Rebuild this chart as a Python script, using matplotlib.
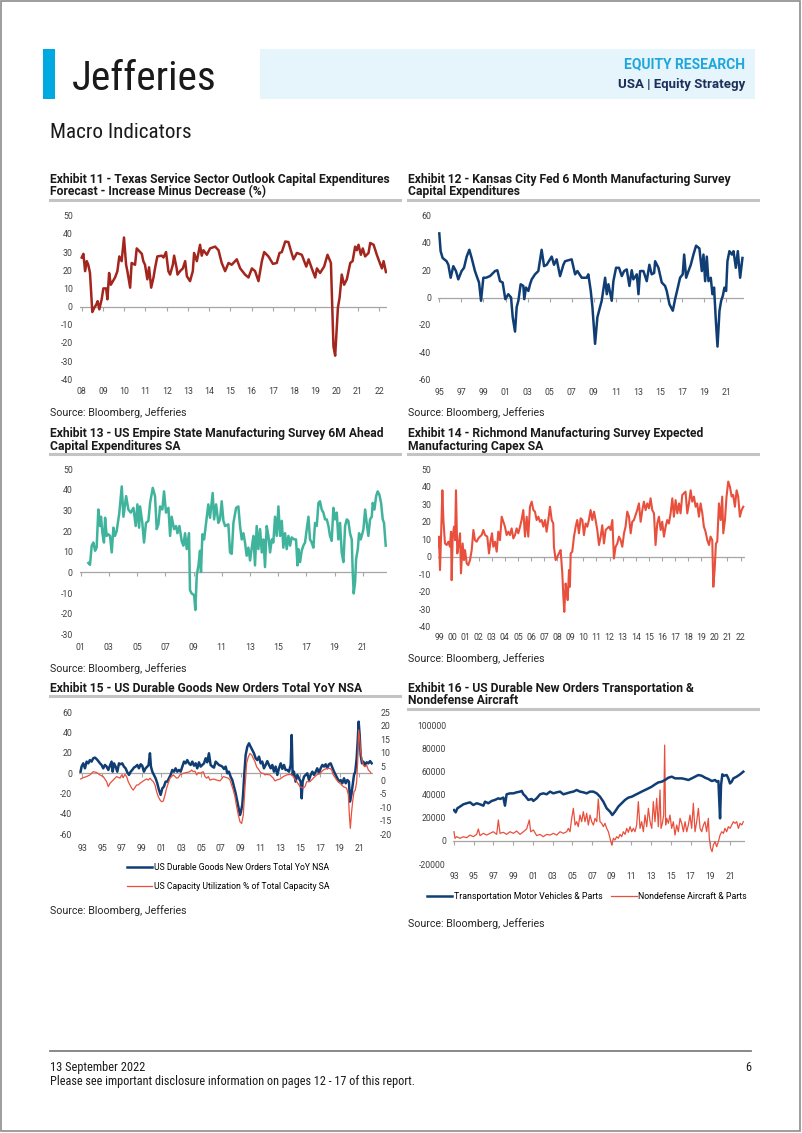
import matplotlib
matplotlib.use('Agg')
import matplotlib.pyplot as plt
from matplotlib import font_manager
from matplotlib.font_manager import FontProperties
from matplotlib.lines import Line2D
from matplotlib.patches import Rectangle

plt.rcParams['font.family'] = ['Roboto', 'DejaVu Sans']
plt.rcParams['axes.unicode_minus'] = False

# look for a narrow / condensed face for the header and footer, else fall back to Roboto
narrow_file = None
for key in ['robotocondensed-regular', 'liberationsansnarrow-regular', 'notosans-condensed.',
            'opensans-condensed', 'opensanscondensed-light']:
    for f in font_manager.fontManager.ttflist:
        if key in f.fname.lower().replace(' ', ''):
            narrow_file = f.fname
            break
    if narrow_file:
        break
NARROW = dict(fontproperties=FontProperties(fname=narrow_file)) if narrow_file else dict(family='Roboto')

# ---------------- data (decimal year, value) ----------------
# Exhibit 11 - Texas service sector capex
texas = [(2008.00, 27), (2008.08, 29), (2008.16, 19.5), (2008.24, 25), (2008.31, 23), (2008.39, 18.5),
         (2008.50, -3), (2008.60, -0.5), (2008.68, 1), (2008.75, 3), (2008.83, -1.5), (2008.94, 4),
         (2009.02, 10), (2009.15, 10), (2009.21, 4), (2009.29, 18.5), (2009.37, 12), (2009.57, 16),
         (2009.68, 19.5), (2009.77, 27.6), (2009.88, 25), (2009.99, 38), (2010.09, 23), (2010.15, 19.5),
         (2010.28, 10.4), (2010.35, 24), (2010.51, 23), (2010.59, 32), (2010.75, 30), (2010.83, 29),
         (2010.90, 25), (2010.98, 23), (2011.09, 15), (2011.17, 21.6), (2011.27, 10.4), (2011.38, 16),
         (2011.45, 21), (2011.56, 27.6), (2011.77, 28), (2011.85, 27), (2011.97, 30), (2012.08, 19.5),
         (2012.16, 17.6), (2012.29, 23), (2012.35, 28), (2012.47, 21), (2012.51, 17.6), (2012.63, 19.5),
         (2012.76, 21), (2012.87, 25), (2012.95, 16.7), (2013.10, 14), (2013.23, 19.5), (2013.29, 29.5),
         (2013.42, 25), (2013.57, 34), (2013.65, 28), (2013.73, 31), (2013.89, 28.5), (2014.04, 32),
         (2014.28, 33), (2014.44, 31), (2014.59, 24), (2014.75, 19.5), (2014.91, 24), (2015.06, 23),
         (2015.30, 26), (2015.46, 21), (2015.69, 17.6), (2015.85, 16), (2016.01, 21), (2016.16, 19.5),
         (2016.32, 14), (2016.48, 25), (2016.59, 30), (2016.79, 27.6), (2017.00, 23.5), (2017.18, 24),
         (2017.31, 29.5), (2017.42, 30), (2017.58, 35.8), (2017.73, 35.5), (2017.84, 31), (2017.97, 26),
         (2018.13, 29.5), (2018.36, 28.5), (2018.57, 22), (2018.68, 26), (2018.83, 21), (2018.99, 16),
         (2019.07, 21), (2019.22, 18.5), (2019.41, 22), (2019.57, 28.5), (2019.73, 24), (2019.85, -22),
         (2019.93, -27), (2020.06, -0.5), (2020.14, 5), (2020.24, 17.6), (2020.35, 12), (2020.48, 15),
         (2020.64, 24), (2020.75, 25), (2020.87, 33), (2020.95, 31), (2021.03, 34), (2021.14, 28.5),
         (2021.23, 32), (2021.34, 27.6), (2021.50, 29.5), (2021.58, 35), (2021.74, 34), (2021.89, 28.5),
         (2022.00, 25), (2022.13, 21), (2022.21, 25), (2022.32, 19)]

# Exhibit 12 - Kansas City Fed capex
kansas = [(1995.00, 47), (1995.12, 34), (1995.30, 29), (1995.66, 26.6), (1995.82, 24), (1996.03, 14.5),
          (1996.27, 23), (1996.51, 19.4), (1996.72, 13.3), (1997.02, 19.4), (1997.24, 21.8), (1997.48, 30),
          (1997.72, 35), (1997.93, 29), (1998.23, 19.4), (1998.44, 14.5), (1998.60, 11), (1998.78, -2.4),
          (1998.99, 14.5), (1999.23, 14.5), (1999.59, 15.7), (2000.05, 19.4), (2000.26, 20), (2000.50, 12),
          (2000.74, 11), (2000.98, -1.2), (2001.25, 2.4), (2001.50, 0), (2001.65, -14.5), (2001.86, -25),
          (2002.01, -7), (2002.16, -2.4), (2002.37, 9.7), (2002.61, 8.5), (2002.70, -1.2), (2002.85, 7.3),
          (2003.07, 4.8), (2003.22, 9.7), (2003.37, 13.3), (2003.67, 17), (2003.97, 19.4), (2004.27, 35),
          (2004.49, 23), (2004.73, 24), (2005.18, 30), (2005.39, 24), (2005.63, 28), (2005.94, 15.7),
          (2006.24, 24), (2006.39, 26.6), (2006.99, 28), (2007.30, 17), (2007.51, 19.4), (2007.90, 14.5),
          (2008.35, 14.5), (2008.50, 17), (2008.72, 4.8), (2008.87, -7), (2009.11, -34), (2009.32, -14.5),
          (2009.56, -7), (2009.71, -2.4), (2010.02, 14.5), (2010.17, 2.4), (2010.32, 9.7), (2010.62, -2.4),
          (2010.77, 12), (2011.01, 21.8), (2011.28, 21.8), (2011.53, 15.7), (2011.74, 19.4), (2011.98, 20.6),
          (2012.22, 8.5), (2012.43, 20), (2012.58, 13.3), (2012.89, 17), (2013.04, 2.4), (2013.19, 19.4),
          (2013.49, 19.4), (2013.79, 12), (2014.03, 24), (2014.24, 17), (2014.46, 18), (2014.55, 26.6),
          (2014.85, 21.8), (2015.15, 11), (2015.45, 8.5), (2015.60, 4.8), (2015.85, -5), (2016.15, -9.7),
          (2016.36, -1.2), (2016.57, 6), (2016.81, 14.5), (2017.05, 17), (2017.18, 31.5), (2017.36, 14.5),
          (2017.57, 19.4), (2017.78, 24), (2018.02, 31.5), (2018.26, 38), (2018.56, 36), (2018.78, 19.4),
          (2018.93, 31.5), (2019.08, 12), (2019.23, 30), (2019.38, 12), (2019.59, 14.5), (2019.74, 2.4),
          (2019.89, 7.3), (2020.05, -17), (2020.20, -36), (2020.38, -9.7), (2020.53, -2.4), (2020.68, 1.2),
          (2020.83, 7.3), (2020.98, 4.8), (2021.10, 26.6), (2021.28, 34), (2021.50, 31.5), (2021.65, 34),
          (2021.86, 21.8), (2022.04, 34), (2022.25, 14.5), (2022.46, 29)]

# Exhibit 13 - Empire State 6M ahead capex
empire = [(2001.54, 4.6), (2001.66, 3.7), (2001.78, 13), (2001.90, 14.5), (2002.02, 10.5), (2002.13, 12),
          (2002.25, 30.5), (2002.37, 22.5), (2002.44, 27), (2002.54, 19), (2002.65, 14.5), (2002.73, 26.5),
          (2002.84, 17.7), (2002.96, 18.5), (2003.08, 17.7), (2003.20, 9.7), (2003.32, 21.7), (2003.43, 17.7),
          (2003.55, 20), (2003.74, 29), (2003.91, 41.7), (2004.03, 27), (2004.22, 37), (2004.38, 30.5),
          (2004.55, 29), (2004.74, 31.3), (2004.90, 22.5), (2005.02, 33), (2005.14, 21.7), (2005.21, 32),
          (2005.37, 24), (2005.49, 14.5), (2005.63, 24), (2005.80, 25), (2005.92, 33.7), (2006.11, 41),
          (2006.27, 37), (2006.39, 21), (2006.51, 23.3), (2006.63, 32), (2006.79, 30.5), (2006.91, 39.3),
          (2007.05, 29), (2007.22, 31.3), (2007.34, 17.7), (2007.45, 27), (2007.62, 21), (2007.76, 22.5),
          (2007.86, 19), (2008.00, 22.5), (2008.16, 15.3), (2008.28, 13), (2008.40, 19), (2008.52, 11.3),
          (2008.68, 19), (2008.75, -8.6), (2008.87, -10.2), (2009.04, -11), (2009.13, -18.2), (2009.23, -1.4),
          (2009.35, 3.4), (2009.46, 10.5), (2009.53, 0.2), (2009.63, 18.5), (2009.75, 16), (2009.94, 27),
          (2010.05, 33), (2010.17, 26.5), (2010.36, 38.5), (2010.46, 25.7), (2010.60, 33), (2010.76, 24),
          (2010.88, 25.7), (2011.00, 34.5), (2011.12, 25), (2011.24, 22.5), (2011.47, 23.3), (2011.59, 9.7),
          (2011.71, 9), (2011.83, 24), (2012.02, 31.3), (2012.18, 32), (2012.30, 22.5), (2012.42, 16),
          (2012.54, 19), (2012.65, 14.5), (2012.77, 8.1), (2012.89, 12), (2013.01, 5.8), (2013.13, 12),
          (2013.25, 17.7), (2013.36, 3.4), (2013.48, 22.5), (2013.60, 11.3), (2013.72, 21), (2013.84, 9.7),
          (2013.96, 16), (2014.07, 2.6), (2014.19, 22.5), (2014.31, 17.7), (2014.43, 9.7), (2014.55, 16),
          (2014.66, 14.5), (2014.78, 27), (2014.90, 17.7), (2015.02, 32), (2015.14, 17.7), (2015.26, 25),
          (2015.37, 12), (2015.49, 19), (2015.61, 11.3), (2015.73, 17.7), (2015.85, 13), (2015.96, 17),
          (2016.13, 16), (2016.27, 16), (2016.37, 3.4), (2016.44, 11.3), (2016.56, 5), (2016.67, 10.5),
          (2016.79, 13), (2016.91, 14.5), (2017.03, 21), (2017.15, 27), (2017.26, 16), (2017.38, 14.5),
          (2017.50, 12), (2017.62, 24), (2017.74, 22.5), (2017.86, 33.7), (2017.97, 34.5), (2018.09, 30.5),
          (2018.21, 29), (2018.33, 25.7), (2018.45, 25.7), (2018.57, 22.5), (2018.68, 17.7), (2018.80, 15.3),
          (2018.92, 31.3), (2019.04, 25.7), (2019.16, 29), (2019.27, 16), (2019.39, 24), (2019.51, 9.7),
          (2019.63, 5), (2019.75, 22.5), (2019.87, 25.7), (2019.98, 25), (2020.10, 19), (2020.22, 16),
          (2020.29, 0.2), (2020.36, -10.2), (2020.46, -4.6), (2020.53, 6.5), (2020.65, 11.3), (2020.74, 19),
          (2020.86, 16), (2020.98, 19), (2021.05, 21), (2021.17, 30.5), (2021.28, 24), (2021.40, 17.7),
          (2021.52, 25.7), (2021.64, 27), (2021.71, 33.7), (2021.83, 30.5), (2021.95, 37), (2022.06, 39.3),
          (2022.18, 37.7), (2022.30, 33.7), (2022.42, 25.7), (2022.51, 24), (2022.63, 13)]

# Exhibit 14 - Richmond expected capex
richmond = [(1998.92, 5.7), (1998.97, 11.5), (1999.05, -7.6), (1999.13, 11.5), (1999.23, 38), (1999.31, 21),
            (1999.43, 7.6), (1999.56, 6.7), (1999.69, 8.6), (1999.81, 5.7), (1999.89, 14.3), (1999.94, -13.4),
            (2000.02, 11.5), (2000.12, 17.2), (2000.20, 9.5), (2000.27, 38), (2000.37, 1.9), (2000.45, 5.7),
            (2000.58, 13.4), (2000.65, -9.5), (2000.78, 7.6), (2000.88, -1.9), (2000.96, 3.8), (2001.09, -3.8),
            (2001.21, -4.8), (2001.34, -1.9), (2001.47, 3.8), (2001.60, 15.3), (2001.72, 9.5), (2001.85, 8.6),
            (2001.98, 10.5), (2002.10, 11.5), (2002.23, 12.4), (2002.36, 15.3), (2002.49, 12.4), (2002.66, 11.5),
            (2002.79, 1.9), (2002.92, 9.5), (2003.02, 13.4), (2003.12, 5.7), (2003.25, 8.6), (2003.38, 2.9),
            (2003.50, 14.3), (2003.63, 9.5), (2003.76, 22.9), (2003.89, 20), (2004.01, 17.2), (2004.14, 12.4),
            (2004.27, 14.3), (2004.39, 12.4), (2004.52, 16.2), (2004.65, 10.5), (2004.78, 12.4), (2004.90, 16.2),
            (2005.03, 13.4), (2005.16, 17.2), (2005.28, 21), (2005.41, 26.7), (2005.54, 11.5), (2005.67, 22.9),
            (2005.79, 11.5), (2005.92, 28.6), (2006.05, 31.5), (2006.18, 26.7), (2006.30, 25.8), (2006.43, 21),
            (2006.56, 22.9), (2006.68, 20), (2006.81, 21), (2006.94, 17.2), (2007.07, 21), (2007.19, 14.3),
            (2007.32, 21), (2007.45, 28.6), (2007.58, 21), (2007.70, 19), (2007.75, 5.7), (2007.88, -1.9),
            (2008.01, 0), (2008.13, 1.9), (2008.26, 3.8), (2008.39, -9.5), (2008.47, -22.9), (2008.54, -31.5),
            (2008.64, -15.3), (2008.72, -19), (2008.80, -24.8), (2008.90, -7.6), (2008.97, -17.2), (2009.03, 1.9),
            (2009.15, 2.9), (2009.28, 11.5), (2009.41, 17.2), (2009.53, 21), (2009.66, 13.4), (2009.79, 22),
            (2009.92, 21), (2010.04, 12.4), (2010.17, 19), (2010.30, 17.2), (2010.42, 21), (2010.55, 26.7),
            (2010.68, 21), (2010.81, 25.8), (2010.93, 21), (2011.06, 15.3), (2011.19, 6.7), (2011.32, 11.5),
            (2011.44, 18), (2011.57, 7.6), (2011.70, 15.3), (2011.82, 16.2), (2011.95, 17.2), (2012.08, 15.3),
            (2012.21, 21), (2012.33, -1), (2012.46, 5.7), (2012.59, 7.6), (2012.72, 11.5), (2012.84, 9.5),
            (2012.97, 5.7), (2013.10, 13.4), (2013.22, 17.2), (2013.35, 25.8), (2013.48, 22.9), (2013.61, 13.4),
            (2013.73, 20), (2013.86, 21), (2013.99, 24), (2014.11, 26.7), (2014.24, 30.5), (2014.37, 20),
            (2014.50, 26.7), (2014.62, 31.5), (2014.75, 26.7), (2014.88, 30.5), (2015.01, 27.7), (2015.13, 33.4),
            (2015.26, 26.7), (2015.39, 24.8), (2015.51, 6.7), (2015.64, 19), (2015.77, 22.9), (2015.90, 15.3),
            (2016.02, 20), (2016.15, 11.5), (2016.28, 17.2), (2016.40, 21), (2016.53, 19), (2016.66, 24.8),
            (2016.79, 33.4), (2016.91, 22.9), (2017.04, 32.4), (2017.17, 24.8), (2017.30, 30.5), (2017.42, 24.8),
            (2017.55, 35.3), (2017.68, 36.3), (2017.80, 37.2), (2017.93, 24.8), (2018.06, 30.5), (2018.19, 38),
            (2018.31, 31.5), (2018.44, 34.4), (2018.57, 28.6), (2018.69, 30.5), (2018.82, 22.9), (2018.95, 30.5),
            (2019.08, 24.8), (2019.20, 17.2), (2019.33, 14.3), (2019.46, 9.5), (2019.59, 6.7), (2019.71, 11.5),
            (2019.84, 9.5), (2019.92, -17.2), (2020.02, -7.6), (2020.12, 7.6), (2020.22, 8.6), (2020.35, 30.5),
            (2020.48, 21), (2020.60, 34.4), (2020.68, 13.4), (2020.81, 21), (2020.93, 34.4), (2021.06, 43),
            (2021.19, 40), (2021.32, 34.4), (2021.44, 35.3), (2021.57, 28.6), (2021.70, 38), (2021.82, 34.4),
            (2021.95, 22.9), (2022.08, 26.7), (2022.21, 28.6)]

# Exhibit 15 - durable goods YoY (left) and capacity utilization (right)
durable = [(1992.83, 1.6), (1992.93, 6.6), (1993.10, 9.8), (1993.27, 4.9), (1993.44, 11.5), (1993.61, 9.8),
           (1993.77, 13), (1993.94, 11.5), (1994.11, 14.8), (1994.28, 15.4), (1994.45, 14), (1994.62, 12),
           (1994.79, 9.8), (1994.95, 8.2), (1995.12, 4.9), (1995.29, 8.2), (1995.46, 6.6), (1995.63, 3.3),
           (1995.80, 7.5), (1995.96, 11.5), (1996.07, 1.6), (1996.20, 9.8), (1996.37, 6.6), (1996.54, 1.6),
           (1996.71, 9.8), (1996.87, 8.9), (1997.04, 9.8), (1997.21, 6.6), (1997.38, 4.9), (1997.55, 1),
           (1997.72, -1.6), (1997.89, 1.6), (1998.05, 3.3), (1998.22, 5.6), (1998.39, 6.6), (1998.56, 8.2),
           (1998.73, 4.9), (1998.90, 8.9), (1999.06, 7.5), (1999.23, 1.6), (1999.40, 4.9), (1999.57, 6.6),
           (1999.70, 8.2), (1999.84, 19.7), (1999.94, 6.6), (2000.08, 1.6), (2000.24, -1.6), (2000.41, -4.9),
           (2000.58, -9.8), (2000.75, -16.4), (2000.92, -21.3), (2001.09, -14.8), (2001.25, -13.1), (2001.42, -8.2),
           (2001.59, -8.2), (2001.76, -4.9), (2001.93, -1.6), (2002.10, 3.3), (2002.27, 1.6), (2002.43, 4.9),
           (2002.60, 1.6), (2002.77, 3.3), (2002.94, 1.6), (2003.11, 6.6), (2003.28, 11.5), (2003.44, 9.8),
           (2003.61, 13), (2003.78, 9.8), (2003.95, 8.2), (2004.12, 11.5), (2004.29, 7.5), (2004.46, 9.8),
           (2004.62, 4.9), (2004.79, 10.8), (2004.96, 6.6), (2005.13, 8.2), (2005.30, 9.8), (2005.47, 14.8),
           (2005.63, 10.8), (2005.80, 19.7), (2005.97, 8.2), (2006.14, 6.6), (2006.31, 5.6), (2006.48, 11.5),
           (2006.65, 9.8), (2006.81, 8.2), (2006.98, 7.5), (2007.15, 6.6), (2007.32, 4.3), (2007.49, 6.6),
           (2007.66, 0), (2007.82, 1.6), (2007.99, -3.3), (2008.16, -6.6), (2008.33, -13.1), (2008.50, -19.7),
           (2008.67, -27.9), (2008.84, -36), (2008.94, -41), (2009.04, -37.7), (2009.17, -31), (2009.27, -18),
           (2009.37, -1.6), (2009.51, 18), (2009.68, 26.2), (2009.85, 29.5), (2010.01, 26.2), (2010.18, 23),
           (2010.35, 19.7), (2010.52, 14.8), (2010.69, 13), (2010.86, 16.4), (2011.03, 9.8), (2011.19, 11.5),
           (2011.36, 4.9), (2011.53, 8.2), (2011.70, 12), (2011.87, 8.2), (2012.04, 4.9), (2012.20, 8.2),
           (2012.37, 1.6), (2012.54, 6.6), (2012.71, -1.6), (2012.88, 4.9), (2013.05, 9.8), (2013.22, 4.3),
           (2013.38, 8.2), (2013.55, 3.3), (2013.72, 3.3), (2013.89, 1.6), (2014.06, 8.2), (2014.16, 37.7),
           (2014.26, -1.6), (2014.39, 1.6), (2014.56, -8.2), (2014.73, -1.6), (2014.90, -4.9), (2015.07, -8.2),
           (2015.17, -24.6), (2015.27, -8.2), (2015.41, -3.3), (2015.57, -1.6), (2015.74, 0), (2015.91, -6.6),
           (2016.08, -1.6), (2016.25, 1.6), (2016.42, -1.6), (2016.59, 1.6), (2016.75, 4.9), (2016.92, 0),
           (2017.09, 4.9), (2017.26, 8.2), (2017.43, 6.6), (2017.60, 8.9), (2017.76, 4.9), (2017.93, 8.9),
           (2018.10, 9.8), (2018.27, 5.6), (2018.44, 1.6), (2018.61, -1.6), (2018.78, -4.9), (2018.94, -8.2),
           (2019.11, -6.6), (2019.28, -9.8), (2019.45, -4.9), (2019.62, -9.8), (2019.79, -6.6), (2019.95, -8.2),
           (2020.05, -27.9), (2020.19, -21.3), (2020.32, -11.5), (2020.46, -1.6), (2020.59, 1.6), (2020.73, 14.8),
           (2020.83, 31), (2020.93, 50.8), (2021.03, 37.7), (2021.13, 18), (2021.27, 9.8), (2021.40, 11.5),
           (2021.57, 8.2), (2021.74, 10.8), (2021.91, 9.8), (2022.08, 12), (2022.25, 9.8)]

capacity = [(1992.83, 0.4), (1993.10, 0.9), (1993.44, 1.3), (1993.77, 1.9), (1994.11, 3.1), (1994.45, 2.8),
            (1994.79, 1.9), (1995.12, 1.3), (1995.46, -0.6), (1995.63, -2.4), (1995.80, -1.2), (1995.96, -0.6),
            (1996.13, 0), (1996.47, 1.3), (1996.81, 0.7), (1996.98, 1.9), (1997.14, 0.9), (1997.31, 2.1),
            (1997.48, 1.3), (1997.65, -0.6), (1997.82, -1.8), (1997.99, -3), (1998.15, -3.7), (1998.32, -2.8),
            (1998.49, -1.8), (1998.66, -1.8), (1998.83, -1.2), (1999.17, -0.3), (1999.50, 0.4), (1999.67, 0),
            (1999.84, 0.7), (2000.01, 0), (2000.18, -0.6), (2000.35, -1.8), (2000.51, -4.3), (2000.68, -6.1),
            (2000.85, -7.3), (2001.02, -8), (2001.19, -7.7), (2001.36, -5.5), (2001.52, -3), (2001.69, -1.2),
            (2001.86, 0.7), (2002.03, 1.3), (2002.20, 1.9), (2002.37, 1.3), (2002.54, 0.7), (2002.70, 0.9),
            (2002.87, 1.9), (2003.21, 2.5), (2003.55, 2.8), (2003.89, 3.1), (2004.05, 3.7), (2004.22, 3.1),
            (2004.39, 3.3), (2004.56, 1.9), (2004.73, 2.8), (2004.89, 2.5), (2005.23, 3.1), (2005.40, 1.3),
            (2005.57, 0.7), (2005.74, 1.3), (2005.90, 0), (2006.24, 0.4), (2006.58, 0), (2006.92, -0.3),
            (2007.08, 0.4), (2007.25, 1.3), (2007.59, 0.9), (2007.76, 0.7), (2007.93, 0), (2008.09, -1.8),
            (2008.26, -3.7), (2008.43, -6.1), (2008.60, -9.8), (2008.77, -12.9), (2008.94, -15.4), (2009.11, -16),
            (2009.27, -12.9), (2009.44, -3), (2009.61, 6.2), (2009.78, 8.6), (2009.95, 9.8), (2010.12, 9.3),
            (2010.28, 8), (2010.45, 6.8), (2010.62, 4.9), (2010.79, 4.1), (2010.96, 3.1), (2011.13, 2.5),
            (2011.30, 2.5), (2011.46, 1.9), (2011.63, 2.1), (2011.97, 1.9), (2012.31, 0.7), (2012.47, -0.3),
            (2012.64, 0), (2012.98, 0.4), (2013.32, 1.3), (2013.66, 1.9), (2013.99, 2.1), (2014.16, 1.9),
            (2014.33, 1.3), (2014.67, -0.6), (2015.00, -2.4), (2015.34, -3), (2015.51, -2.4), (2015.68, -0.6),
            (2016.01, -0.6), (2016.35, 0.7), (2016.69, 1.9), (2017.02, 2.5), (2017.36, 3.7), (2017.70, 4.3),
            (2018.04, 4.3), (2018.20, 3.7), (2018.37, 1.9), (2018.71, 0), (2019.04, -1.2), (2019.38, -2.4),
            (2019.72, -3), (2019.89, -5.5), (2019.99, -12.9), (2020.09, -17.8), (2020.19, -12.9), (2020.32, -8),
            (2020.46, -4.3), (2020.59, -3.7), (2020.73, -0.6), (2020.83, 6.8), (2020.93, 18.5), (2021.03, 15.4),
            (2021.13, 10.5), (2021.27, 7.4), (2021.40, 5.5), (2021.57, 4.9), (2021.74, 5.5), (2021.91, 3.7),
            (2022.08, 3.1), (2022.18, 2.5)]

# Exhibit 16 - transportation vs nondefense aircraft orders
motor = [(1993.00, 26800), (1993.17, 24800), (1993.34, 28300), (1993.61, 29800), (1993.95, 31800),
         (1994.29, 32700), (1994.62, 33500), (1994.96, 31200), (1995.30, 32700), (1995.64, 31800),
         (1995.98, 30600), (1996.15, 34100), (1996.48, 32700), (1996.82, 34700), (1997.16, 35600),
         (1997.50, 37000), (1997.67, 36400), (1998.01, 37600), (1998.17, 30600), (1998.34, 40500),
         (1998.68, 41300), (1999.02, 41300), (1999.36, 42200), (1999.70, 42800), (1999.87, 43400),
         (2000.04, 40500), (2000.20, 39300), (2000.54, 35600), (2000.88, 36400), (2001.05, 34700),
         (2001.39, 37000), (2001.73, 40500), (2002.06, 41300), (2002.40, 40500), (2002.74, 42800),
         (2003.08, 41300), (2003.42, 42200), (2003.76, 42800), (2004.09, 40500), (2004.43, 41300),
         (2004.77, 42200), (2005.11, 42800), (2005.45, 44200), (2005.78, 42800), (2006.12, 42200),
         (2006.46, 41300), (2006.80, 42800), (2007.14, 42800), (2007.48, 41300), (2007.81, 38400),
         (2008.15, 34100), (2008.49, 28300), (2008.83, 25400), (2009.06, 22500), (2009.33, 25400),
         (2009.67, 29800), (2010.01, 32700), (2010.35, 35600), (2010.69, 37600), (2011.03, 38400),
         (2011.37, 39900), (2011.70, 41300), (2012.04, 42800), (2012.38, 44200), (2012.72, 45600),
         (2013.06, 47100), (2013.40, 49100), (2013.73, 50800), (2014.07, 51400), (2014.41, 52900),
         (2014.75, 54900), (2015.09, 55800), (2015.43, 54300), (2015.76, 54300), (2016.10, 54300),
         (2016.44, 53700), (2016.78, 52900), (2017.12, 54300), (2017.46, 55800), (2017.79, 57200),
         (2018.13, 56600), (2018.47, 54900), (2018.81, 53700), (2019.15, 52000), (2019.49, 52900),
         (2019.65, 51400), (2019.82, 52000), (2019.99, 19600), (2020.09, 48500), (2020.22, 57800),
         (2020.39, 56600), (2020.66, 57200), (2020.83, 54300), (2021.00, 49900), (2021.17, 51400),
         (2021.34, 54300), (2021.68, 55800), (2022.02, 57800), (2022.35, 60100)]

aircraft = [(1993.00, 8000), (1993.10, 2300), (1993.27, 3700), (1993.61, 2300), (1993.95, 3700), (1994.29, 2800),
            (1994.62, 5100), (1994.96, 3700), (1995.30, 5700), (1995.47, 10400), (1995.64, 4600), (1995.98, 6600),
            (1996.31, 5100), (1996.65, 6600), (1996.99, 8000), (1997.33, 5700), (1997.50, 18200), (1997.67, 6600),
            (1998.01, 7500), (1998.34, 5700), (1998.68, 8000), (1999.02, 6600), (1999.36, 8600), (1999.70, 5700),
            (2000.04, 8000), (2000.37, 10400), (2000.64, 18200), (2000.78, 8000), (2001.05, 9500), (2001.39, 4600),
            (2001.73, 5700), (2002.06, 3700), (2002.40, 5700), (2002.74, 5100), (2003.08, 6600), (2003.42, 5100),
            (2003.76, 8000), (2004.09, 6600), (2004.43, 8000), (2004.60, 10900), (2004.77, 8000), (2004.94, 19600),
            (2005.11, 28300), (2005.28, 13800), (2005.45, 16700), (2005.61, 12400), (2005.78, 22500), (2005.95, 16700),
            (2006.12, 25400), (2006.29, 16700), (2006.46, 24000), (2006.63, 13800), (2006.80, 22500), (2006.97, 16700),
            (2007.14, 13800), (2007.31, 19600), (2007.48, 16700), (2007.64, 36400), (2007.81, 16700), (2007.98, 15300),
            (2008.15, 12400), (2008.32, 15300), (2008.49, 10900), (2008.66, 8000), (2008.83, 2300), (2009.00, -3500),
            (2009.17, 2300), (2009.33, 800), (2009.50, 3700), (2009.67, 2300), (2009.84, 5700), (2010.01, 3700),
            (2010.18, 8000), (2010.35, 5700), (2010.52, 10900), (2010.69, 7500), (2010.86, 12400), (2011.03, 8000),
            (2011.19, 10900), (2011.36, 8000), (2011.53, 13800), (2011.70, 34100), (2011.87, 10900), (2012.04, 16700),
            (2012.21, 8000), (2012.38, 22500), (2012.55, 12400), (2012.72, 28300), (2012.89, 16700), (2013.06, 10900),
            (2013.22, 34100), (2013.39, 16700), (2013.56, 37000), (2013.73, 12400), (2013.90, 44200), (2014.00, 10900),
            (2014.14, 15300), (2014.27, 22500), (2014.37, 83200), (2014.47, 13800), (2014.58, 19600), (2014.75, 15300),
            (2014.91, 22500), (2015.08, 10900), (2015.25, 16700), (2015.42, 5100), (2015.59, 13800), (2015.76, 8000),
            (2015.93, 19600), (2016.10, 15300), (2016.27, 8000), (2016.44, 16700), (2016.61, 8000), (2016.77, 13800),
            (2016.94, 22500), (2017.11, 10900), (2017.28, 32700), (2017.45, 8000), (2017.62, 16700), (2017.79, 28300),
            (2017.96, 10900), (2018.13, 8000), (2018.30, 13800), (2018.46, 16700), (2018.63, 8000), (2018.80, 19600),
            (2018.90, 2300), (2019.04, -6400), (2019.18, -9300), (2019.31, -3500), (2019.48, -600), (2019.65, -5000),
            (2019.82, -600), (2019.99, 5100), (2020.16, 8000), (2020.33, 6600), (2020.49, 10900), (2020.66, 8000),
            (2020.83, 12400), (2021.00, 10900), (2021.17, 13800), (2021.34, 16700), (2021.51, 15300), (2021.68, 16700),
            (2021.85, 10900), (2022.02, 15300), (2022.19, 13800), (2022.35, 16700)]

# axis labels
yrs_08_22 = list(range(2008, 2023))
yrs_95_21 = list(range(1995, 2022, 2))
yrs_01_21 = list(range(2001, 2022, 2))
yrs_99_22 = list(range(1999, 2023))
yrs_93_21 = list(range(1993, 2022, 2))

NAVY = '#103E74'
DARKRED = '#A3261E'
TEAL = '#3FB39C'
RED = '#E8503D'
GRID = '#A6A6A6'
TICK = '#404040'

W, H = 802, 1133
fig = plt.figure(figsize=(W / 100, H / 100), dpi=100)
renderer = fig.canvas.get_renderer()


def fx(x):
    return x / W


def fy(y):
    return 1 - y / H


def txt(x, y, s, **kw):
    return fig.text(fx(x), fy(y), s, va='baseline', **kw)


def fit_txt(x, y, s, width, size, **kw):
    # set the font size so that the string spans the measured width in pixels
    t = txt(x, y, s, fontsize=size, **kw)
    w = t.get_window_extent(renderer).width
    t.set_fontsize(size * width / w)
    return t


def rule(x0, x1, y, lw, color):
    fig.add_artist(Line2D([fx(x0), fx(x1)], [fy(y), fy(y)], lw=lw, color=color,
                          transform=fig.transFigure))


def panel(box, xlim, ylim, yticks, xticks, xpad=5.5, size=6.3):
    x0, y0, x1, y1 = box
    ax = fig.add_axes([fx(x0), fy(y1), (x1 - x0) / W, (y1 - y0) / H])
    ax.patch.set_alpha(0)
    ax.set_xlim(*xlim)
    ax.set_ylim(*ylim)
    for s in ax.spines.values():
        s.set_visible(False)
    ax.set_yticks(yticks, [str(v) for v in yticks])
    ax.set_xticks(xticks, ['%02d' % (y % 100) for y in xticks])
    ax.tick_params(axis='y', length=0, pad=5.2, labelsize=size, labelcolor=TICK)
    ax.tick_params(axis='x', length=0, pad=xpad, labelsize=size, labelcolor=TICK)
    ax.axhline(0, color=GRID, lw=0.9, zorder=1)
    ax.plot(xticks, [0] * len(xticks), ls='none', marker=3, ms=3, mew=0.8, color=GRID, zorder=1)
    return ax


def series(ax, pairs, color, lw):
    xs, ys = zip(*pairs)
    return ax.plot(xs, ys, color=color, lw=lw, solid_joinstyle='round', zorder=3)[0]


# ---------------- page furniture ----------------
fig.add_artist(Rectangle((fx(1), fy(1131)), fx(799), 1130 / H, transform=fig.transFigure,
                         fill=False, ec='#8C8C8C', lw=1.2))
fig.add_artist(Rectangle((fx(43), fy(99)), 12 / W, 50 / H, transform=fig.transFigure,
                         fc='#00A9E0', ec='none'))
fig.add_artist(Rectangle((fx(260), fy(99)), 495 / W, 50 / H, transform=fig.transFigure,
                         fc='#E6F4FB', ec='none'))
fit_txt(72, 90, 'Jefferies', 146, 33, color='#1A1A1A', **NARROW)
txt(745, 68, 'EQUITY RESEARCH', fontsize=10, fontweight='bold', color='#1EA7DD', ha='right')
txt(745, 88, 'USA | Equity Strategy', fontsize=9.5, fontweight='bold', color='#1B2F5B', ha='right')
fit_txt(50, 138.5, 'Macro Indicators', 142, 14, color='#1A1A1A', **NARROW)

TITLE = dict(fontsize=8.7, fontweight='bold', color='#1A1A1A')
SOURCE = dict(fontsize=7.7, color='#262626')

# ---------------- Exhibit 11 ----------------
txt(50, 182.5, 'Exhibit 11 - Texas Service Sector Outlook Capital Expenditures', **TITLE)
txt(50, 195, 'Forecast - Increase Minus Decrease (%)', **TITLE)
rule(50, 400, 199.5, 2.2, '#C4C4C4')
ax = panel((80, 215.7, 387, 379.3), (2007.92, 2022.37), (-40, 50), list(range(-40, 51, 10)), yrs_08_22)
series(ax, texas, DARKRED, 1.8)
txt(50, 416.5, 'Source: Bloomberg, Jefferies', **SOURCE)

# ---------------- Exhibit 12 ----------------
txt(408, 182.5, 'Exhibit 12 - Kansas City Fed 6 Month Manufacturing Survey', **TITLE)
txt(408, 195, 'Capital Expenditures', **TITLE)
rule(408, 758, 199.5, 2.2, '#C4C4C4')
ax = panel((438.3, 215.7, 744, 379.3), (1994.91, 2022.6), (-60, 60), list(range(-60, 61, 20)),
           yrs_95_21, xpad=6.5)
series(ax, kansas, NAVY, 1.8)
txt(408, 416.5, 'Source: Bloomberg, Jefferies', **SOURCE)

# ---------------- Exhibit 13 ----------------
txt(50, 437.5, 'Exhibit 13 - US Empire State Manufacturing Survey 6M Ahead', **TITLE)
txt(50, 449.7, 'Capital Expenditures SA', **TITLE)
rule(50, 400, 453.5, 2.2, '#C4C4C4')
ax = panel((80, 469.3, 386.7, 634.3), (2000.95, 2022.70), (-30, 50), list(range(-30, 51, 10)),
           yrs_01_21, xpad=6.5)
series(ax, empire, TEAL, 1.8)
txt(50, 672, 'Source: Bloomberg, Jefferies', **SOURCE)

# ---------------- Exhibit 14 ----------------
txt(408, 437.5, 'Exhibit 14 - Richmond Manufacturing Survey Expected', **TITLE)
txt(408, 449.7, 'Manufacturing Capex SA', **TITLE)
rule(408, 758, 453.5, 2.2, '#C4C4C4')
ax = panel((438.3, 469.3, 745, 626.7), (1998.92, 2022.34), (-40, 50), list(range(-40, 51, 10)),
           yrs_99_22, xpad=4.5)
series(ax, richmond, RED, 1.5)
txt(408, 662, 'Source: Bloomberg, Jefferies', **SOURCE)

# ---------------- Exhibit 15 ----------------
txt(50, 691.7, 'Exhibit 15 - US Durable Goods New Orders Total YoY NSA', **TITLE)
rule(50, 400, 696, 2.2, '#C4C4C4')
ax = panel((79.3, 712.3, 373, 834.3), (1992.70, 2022.38), (-60, 60), list(range(-60, 61, 20)),
           yrs_93_21, xpad=7)
l1 = series(ax, durable, NAVY, 1.8)
ax2 = ax.twinx()
ax2.patch.set_alpha(0)
for s in ax2.spines.values():
    s.set_visible(False)
ax2.set_ylim(-20, 25)
ax2.set_yticks(list(range(-20, 26, 5)), [str(v) for v in range(-20, 26, 5)])
ax2.tick_params(axis='y', length=0, pad=5.2, labelsize=6.3, labelcolor=TICK)
xs, ys = zip(*capacity)
l2 = ax2.plot(xs, ys, color=RED, lw=0.9, zorder=3)[0]
fig.legend([l1, l2], ['US Durable Goods New Orders Total YoY NSA',
                      'US Capacity Utilization % of Total Capacity SA'],
           loc='center', bbox_to_anchor=(fx(228.5), fy(877.2)), frameon=False, fontsize=6.2,
           handlelength=2.9, handletextpad=0.2, labelspacing=1.15)
txt(50, 913.7, 'Source: Bloomberg, Jefferies', **SOURCE)

# ---------------- Exhibit 16 ----------------
txt(408, 691.7, 'Exhibit 16 - US Durable New Orders Transportation &', **TITLE)
txt(408, 703.5, 'Nondefense Aircraft', **TITLE)
rule(408, 758, 708.5, 2.2, '#C4C4C4')
ax = panel((453.3, 725.7, 745, 864), (1992.93, 2022.52), (-20000, 100000),
           list(range(-20000, 100001, 20000)), yrs_93_21, xpad=6, size=6.2)
m1 = series(ax, motor, NAVY, 1.8)
xs, ys = zip(*aircraft)
m2 = ax.plot(xs, ys, color=RED, lw=0.9, zorder=2)[0]
fig.legend([m1, m2], ['Transportation Motor Vehicles & Parts', 'Nondefense Aircraft & Parts'],
           loc='center', bbox_to_anchor=(fx(587), fy(896.7)), frameon=False, fontsize=6.3, ncol=2,
           handlelength=2.9, handletextpad=0.2, columnspacing=1.0)
txt(408, 926.7, 'Source: Bloomberg, Jefferies', **SOURCE)

# ---------------- footer ----------------
rule(50, 751, 1051, 1.3, '#7F7F7F')
date_txt = fit_txt(50, 1071, '13 September 2022', 95, 8.5, color='#1A1A1A', **NARROW)
txt(751, 1071, '6', fontsize=date_txt.get_fontsize(), color='#1A1A1A', ha='right', **NARROW)
fit_txt(50, 1085, 'Please see important disclosure information on pages 12 - 17 of this report.', 364, 8.5,
        color='#1A1A1A', **NARROW)

fig.savefig('out.png', dpi=100)
